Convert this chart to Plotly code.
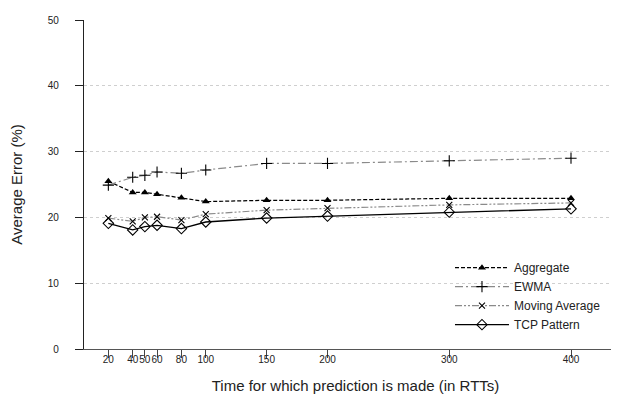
import plotly.graph_objects as go

rtts = [20, 40, 50, 60, 80, 100, 150, 200, 300, 400]
aggregate = [25.5, 23.8, 23.8, 23.5, 23.0, 22.4, 22.6, 22.6, 22.9, 22.9]
ewma = [24.9, 26.1, 26.4, 26.9, 26.7, 27.2, 28.2, 28.2, 28.6, 29.0]
moving_avg = [19.9, 19.4, 20.0, 20.1, 19.6, 20.5, 21.1, 21.4, 21.9, 22.2]
tcp_pattern = [19.1, 18.1, 18.6, 18.8, 18.3, 19.3, 19.9, 20.2, 20.8, 21.3]

x_ticks = [20, 40, 50, 60, 80, 100, 150, 200, 300, 400]
y_ticks = [0, 10, 20, 30, 40, 50]

FONT = "Liberation Sans, Arial, sans-serif"

fig = go.Figure()
fig.add_trace(go.Scatter(
    x=rtts, y=aggregate, name="Aggregate", mode="lines+markers",
    line=dict(color="black", width=1.2, dash="4px,2px"),
    marker=dict(symbol="triangle-up", size=7, color="black"),
))
fig.add_trace(go.Scatter(
    x=rtts, y=ewma, name="EWMA", mode="lines+markers",
    line=dict(color="#8a8a8a", width=1.2, dash="8px,3px,2px,3px"),
    marker=dict(symbol="cross-thin", size=8, color="black",
                line=dict(color="black", width=1.1)),
))
fig.add_trace(go.Scatter(
    x=rtts, y=moving_avg, name="Moving Average", mode="lines+markers",
    line=dict(color="#8a8a8a", width=1.2, dash="7px,2px,2px,2px,2px,2px"),
    marker=dict(symbol="x-thin", size=6, color="black",
                line=dict(color="black", width=1.1)),
))
fig.add_trace(go.Scatter(
    x=rtts, y=tcp_pattern, name="TCP Pattern", mode="lines+markers",
    line=dict(color="black", width=1.3),
    marker=dict(symbol="diamond-open", size=8, color="black",
                line=dict(color="black", width=1.1)),
))

fig.update_layout(
    width=619, height=402,
    margin=dict(l=76, r=0, t=12, b=61),
    paper_bgcolor="white", plot_bgcolor="white",
    font=dict(family=FONT, size=10, color="#222"),
    showlegend=True,
    legend=dict(
        x=0.674, y=0.03, xanchor="left", yanchor="bottom",
        bgcolor="rgba(0,0,0,0)", borderwidth=0,
        font=dict(size=12, family=FONT, color="#222"),
        itemwidth=54, tracegroupgap=0,
    ),
    xaxis=dict(
        range=[0, 446], tickmode="array", tickvals=x_ticks,
        ticktext=[str(v) for v in x_ticks], tickangle=0,
        showgrid=False, zeroline=False,
        showline=True, linecolor="#555", linewidth=1,
        ticks="outside", ticklen=8, tickcolor="#444", tickwidth=1,
        ticklabelstandoff=-7,
        tickfont=dict(size=10, family=FONT, color="#222"),
        title=dict(text="Time for which prediction is made (in RTTs)",
                   font=dict(size=15, family=FONT, color="#222"), standoff=16),
    ),
    yaxis=dict(
        range=[0, 50], tickmode="array", tickvals=y_ticks,
        showgrid=True, gridcolor="#cfcfcf", griddash="dot", gridwidth=1,
        zeroline=False,
        showline=True, linecolor="#222", linewidth=1.3,
        ticks="outside", ticklen=8, tickcolor="#222", tickwidth=1.3,
        ticklabelstandoff=14,
        tickfont=dict(size=10, family=FONT, color="#222"),
        title=dict(text="Average Error (%)",
                   font=dict(size=15, family=FONT, color="#222"), standoff=22),
    ),
)

fig.write_html("out.html")
